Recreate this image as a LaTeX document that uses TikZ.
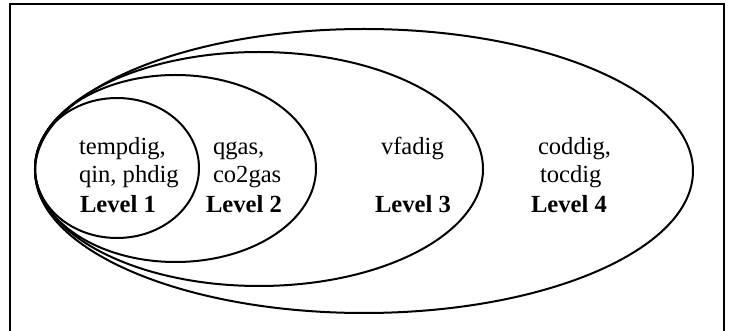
\documentclass[tikz,border=0pt]{standalone}
\usepackage{fontspec}
\setmainfont{Liberation Serif}
\tikzset{
  every picture/.style={line width=1pt},
  ring/.style={draw=black, line width=1pt},
  item/.style={anchor=base west, inner sep=0pt, font=\fontsize{12.3}{14}\selectfont},
  level/.style={item, font=\fontsize{12.3}{14}\selectfont\bfseries},
}
\begin{document}
\begin{tikzpicture}[x=0.5pt, y=-0.5pt]
  \clip (0,0) rectangle (729,331);
  \draw (10,4) rectangle (724,345);
  % nested levels, innermost first
  \foreach \cx/\cy/\rx/\ry in {117/168/82/70, 175.5/168.5/140.5/93.5, 259/169/224/117, 364/171/329/142}
    \draw[ring] (\cx,\cy) ellipse [x radius=\rx, y radius=\ry];
  \node[item] (t1a) at (78,155) {tempdig,};
  \node[item] (t1b) at (78,183) {qin, phdig};
  \node[level] (l1) at (79,213) {Level 1};
  \node[item] (t2a) at (212,155) {qgas,};
  \node[item] (t2b) at (212,183) {co2gas};
  \node[level] (l2) at (205,213) {Level 2};
  \node[item] (t3a) at (380,155) {vfadig};
  \node[level] (l3) at (374,213) {Level 3};
  \node[item] (t4a) at (537,155) {coddig,};
  \node[item] (t4b) at (539,183) {tocdig};
  \node[level] (l4) at (530,213) {Level 4};
\end{tikzpicture}
\end{document}
